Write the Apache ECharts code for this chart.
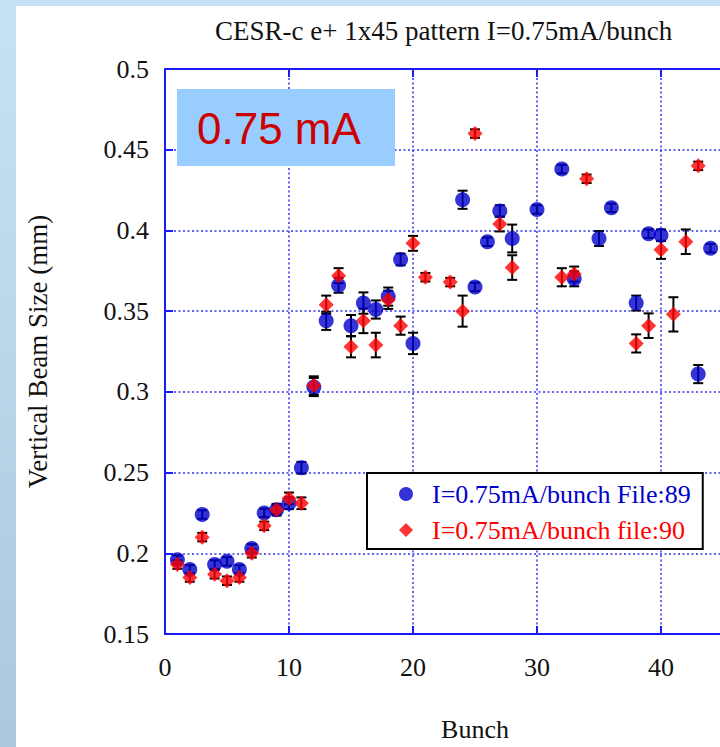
<!DOCTYPE html>
<html><head><meta charset="utf-8">
<script src="https://cdn.jsdelivr.net/npm/echarts@6/dist/echarts.min.js"></script>
<style>
html,body{margin:0;padding:0;overflow:hidden;width:720px;height:747px;}
#bg{position:absolute;left:0;top:0;width:720px;height:747px;background:linear-gradient(#c6e3f6,#abc8dc);}
#panel{position:absolute;left:16px;top:6px;width:704px;height:741px;background:#fff;}
#c{position:absolute;left:0;top:0;width:800px;height:747px;}
</style></head>
<body><div id="bg"></div><div id="panel"></div><div id="c"></div>
<script>
const titleText = 'CESR-c e+ 1x45 pattern I=0.75mA/bunch';
const xName = 'Bunch';
const yName = 'Vertical Beam Size (mm)';
const boxLabel = '0.75 mA';
const blueName = 'I=0.75mA/bunch File:89';
const redName = 'I=0.75mA/bunch file:90';

const blueX = [1,2,3,4,5,6,7,8,9,10,11,12,13,14,15,16,17,18,19,20,24,25,26,27,28,30,32,33,35,36,38,39,40,43,44];
const blueY = [0.196,0.190,0.224,0.193,0.195,0.190,0.203,0.225,0.227,0.231,0.253,0.303,0.344,0.366,0.341,0.355,0.351,0.359,0.382,0.330,0.419,0.365,0.393,0.412,0.395,0.413,0.438,0.370,0.395,0.414,0.355,0.398,0.397,0.311,0.389];
const blueErr = [0.002,0.002,0.002,0.002,0.002,0.002,0.002,0.002,0.003,0.003,0.003,0.005,0.005,0.004,0.006,0.006,0.005,0.005,0.003,0.006,0.005,0.002,0.002,0.003,0.008,0.002,0.002,0.004,0.004,0.002,0.004,0.002,0.003,0.005,0.002];

const redX = [1,2,3,4,5,6,7,8,9,10,11,12,13,14,15,16,17,18,19,20,21,23,24,25,27,28,32,33,34,38,39,40,41,42,43];
const redY = [0.193,0.185,0.210,0.187,0.183,0.185,0.200,0.217,0.227,0.234,0.231,0.304,0.354,0.372,0.328,0.344,0.329,0.357,0.341,0.392,0.371,0.368,0.350,0.460,0.404,0.377,0.371,0.373,0.432,0.330,0.341,0.388,0.348,0.393,0.440];
const redErr = [0.002,0.002,0.002,0.002,0.002,0.002,0.002,0.002,0.002,0.003,0.003,0.005,0.005,0.004,0.006,0.007,0.007,0.005,0.005,0.004,0.002,0.002,0.009,0.002,0.004,0.007,0.005,0.004,0.002,0.005,0.007,0.005,0.010,0.007,0.002];

const xTicks = [0,10,20,30,40,50];
const yTicks = [0.15,0.2,0.25,0.3,0.35,0.4,0.45,0.5];

const serif = 'Liberation Serif';
const blueCol = '#0000cc', redCol = '#ff0000';
const axisBlue = '#1a1aff', gridBlue = '#3333ee';

const blueData = blueX.map((x,i)=>[x, blueY[i]]);
const redData = redX.map((x,i)=>[x, redY[i]]);
const errData = blueX.map((x,i)=>[x, blueY[i]-blueErr[i], blueY[i]+blueErr[i]])
  .concat(redX.map((x,i)=>[x, redY[i]-redErr[i], redY[i]+redErr[i]]));

function renderErr(params, api){
  const x = api.value(0), lo = api.value(1), hi = api.value(2);
  const p1 = api.coord([x, hi]), p2 = api.coord([x, lo]);
  const w = 5, st = {stroke:'#000', lineWidth:2};
  return {type:'group', children:[
    {type:'line', shape:{x1:p1[0],y1:p1[1]-1,x2:p2[0],y2:p2[1]+1}, style:st},
    {type:'line', shape:{x1:p1[0]-w,y1:p1[1]-1,x2:p1[0]+w,y2:p1[1]-1}, style:st},
    {type:'line', shape:{x1:p2[0]-w,y1:p2[1]+1,x2:p2[0]+w,y2:p2[1]+1}, style:st}
  ]};
}

const chart = echarts.init(document.getElementById('c'), null, {renderer:'svg', width:800, height:747});
const axisCommon = {
  axisLine:{show:true, onZero:false, lineStyle:{color:axisBlue, width:2}},
  axisTick:{show:true, inside:true, length:8, lineStyle:{color:axisBlue, width:2}},
  splitLine:{show:true, lineStyle:{color:gridBlue, width:1.5, type:[2,2.5]}}
};
chart.setOption({
  animation:false,
  textStyle:{fontFamily:serif},
  grid:{left:165, top:69, right:15, bottom:104},
  xAxis:[
    Object.assign({type:'value', min:xTicks[0], max:xTicks[xTicks.length-1], interval:10,
      name:xName, nameLocation:'middle', nameGap:82,
      nameTextStyle:{fontFamily:serif, fontSize:26, color:'#111'},
      axisLabel:{fontFamily:serif, fontSize:26, color:'#111', margin:20, showMaxLabel:false}}, axisCommon),
    {type:'value', position:'top', min:xTicks[0], max:xTicks[xTicks.length-1], interval:10,
      axisLine:{show:true, onZero:false, lineStyle:{color:axisBlue, width:2}},
      axisTick:{show:true, inside:true, length:8, lineStyle:{color:axisBlue, width:2}},
      axisLabel:{show:false}, splitLine:{show:false}}
  ],
  yAxis:Object.assign({type:'value', min:yTicks[0], max:yTicks[yTicks.length-1], interval:0.05,
      name:yName, nameLocation:'middle', nameGap:114, nameRotate:90,
      nameTextStyle:{fontFamily:serif, fontSize:27, color:'#111'},
      axisLabel:{fontFamily:serif, fontSize:26, color:'#111', margin:16}}, axisCommon),
  title:{text:titleText, left:210, top:12,
    textStyle:{fontFamily:serif, fontSize:27, fontWeight:'normal', color:'#111'}},
  legend:{
    orient:'vertical', left:367, top:473,
    data:[{name:blueName, icon:'circle'}, {name:redName, icon:'diamond'}],
    formatter:function(name){ return (name === blueName ? '{b|' : '{r|') + name + '}'; },
    itemWidth:14, itemHeight:14, itemGap:10,
    padding:[8,12,6,32],
    backgroundColor:'#fff', borderColor:'#000', borderWidth:2,
    textStyle:{fontFamily:serif, fontSize:26, padding:[0,0,0,14],
      rich:{b:{fontFamily:serif, fontSize:26, color:blueCol}, r:{fontFamily:serif, fontSize:26, color:redCol}}}
  },
  graphic:[
    {type:'rect', left:177, top:89, z:100, shape:{width:218, height:77}, style:{fill:'#99ccff'}},
    {type:'text', left:197, top:106, z:101, style:{text:boxLabel, fill:'#cc0000', font:'44px "Liberation Sans", Arial, sans-serif'}}
  ],
  series:[
    {type:'custom', name:'err', renderItem:renderErr, data:errData, z:1, silent:true},
    {type:'scatter', name:blueName, data:blueData, symbol:'circle', symbolSize:15, itemStyle:{color:blueCol}, z:3},
    {type:'scatter', name:redName, data:redData, symbol:'diamond', symbolSize:15, itemStyle:{color:redCol}, z:4}
  ]
});
</script></body></html>
